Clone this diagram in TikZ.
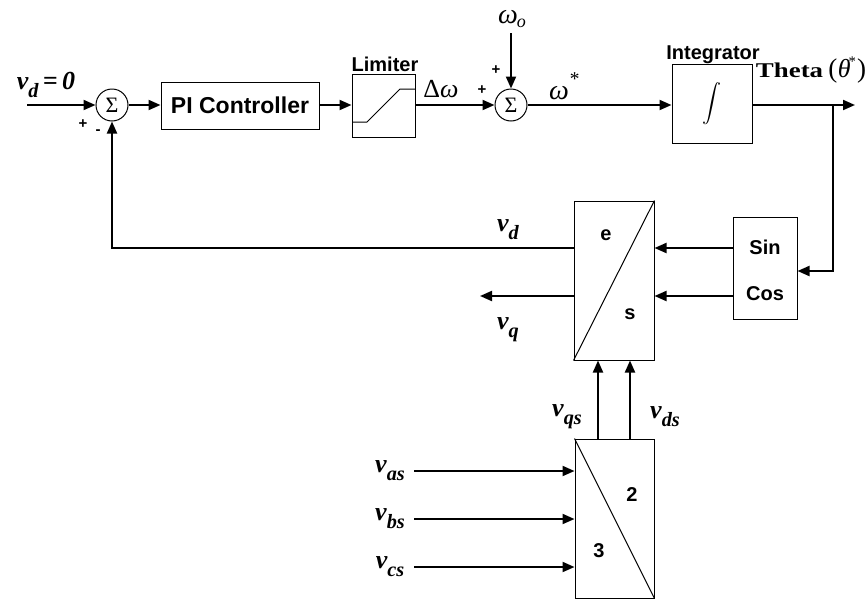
\documentclass[tikz,border=0pt]{standalone}
\usepackage{fontspec}
\setmainfont{Liberation Sans}
\newfontfamily\tms{Liberation Serif}
\usetikzlibrary{arrows.meta,calc}
\newcommand\lsub[1]{\raisebox{-0.3em}{\scalebox{0.78}{#1}}}
\newcommand\lsup[1]{\raisebox{0.5em}{\scalebox{0.7}{#1}}}
\newcommand\bi[1]{{\tms\bfseries\itshape #1}}
\newcommand\fs[1]{\fontsize{#1}{#1}\selectfont}
\begin{document}
\begin{tikzpicture}[x=1pt,y=-1pt,
  sig/.style={line width=2pt,-{Triangle[length=12pt,width=10pt]}},
  box/.style={draw,line width=1pt,inner sep=0pt,minimum width=#1},
  sumc/.style={draw,circle,line width=1pt,minimum size=32pt,inner sep=0pt,font=\tms\fs{22}},
  blab/.style={font=\bfseries\fs{20}},
  mlab/.style={font=\tms\bfseries\itshape\fs{26}},
  wlab/.style={font=\tms\itshape\fs{28}},
  pm/.style={font=\bfseries\fs{15}}
]
\useasboundingbox (0,0) rectangle (868,600);
% blocks
\node[sumc] (s1) at (112,105) {Σ};
\node[box=158pt,minimum height=47pt,font=\bfseries\fs{23}] (pi) at (240,105.5) {PI Controller};
\node[box=63pt,minimum height=63pt] (lim) at (383.5,105.5) {};
\node[sumc] (s2) at (511,105) {Σ};
\node[box=80pt,minimum height=79pt] (int) at (712,103.5) {\scalebox{1.9}{$\displaystyle\int$}};
\node[box=80pt,minimum height=159pt] (es) at (614,280.5) {};
\node[box=64pt,minimum height=102pt] (sc) at (765,268) {};
\node[box=79pt,minimum height=159pt] (tt) at (614.5,518.5) {};
% block interiors
\draw[line width=1pt] (352,122) -- (367,122) -- (400,89) -- (415,89);
\draw[line width=1pt] (es.south west) -- (es.north east);
\draw[line width=1pt] (tt.north west) -- (tt.south east);
\node[blab] (le) at (606,235) {e};
\node[blab] (ls) at (630,314) {s};
\node[blab] (lsin) at (765,247) {Sin};
\node[blab] (lcos) at (765,294) {Cos};
\node[blab] (l2) at (632,495) {2};
\node[blab] (l3) at (599,551) {3};
\node[blab] (llim) at (385,64) {Limiter};
\node[blab] (lint) at (713,55) {Integrator};
% coordinates
\coordinate (in) at (27,105);
\coordinate (wo) at (511,33);
\coordinate (out) at (855,105);
\coordinate (br) at (833,105);
\coordinate (vq) at (480,296);
\coordinate (fb) at (112,248);
\coordinate (ia) at (414,471);
\coordinate (ib) at (414,519);
\coordinate (ic) at (414,567);
% connectors
\draw[sig] (in) -- (s1.west);
\draw[sig] (s1.east) -- (s1.east -| pi.west);
\draw[sig] (pi.east |- s1) -- (s1 -| lim.west);
\draw[sig] (lim.east |- s1) -- (s2.west);
\draw[sig] (wo) -- (s2.north);
\draw[sig] (s2.east) -- (s2 -| int.west);
\draw[sig] (int.east |- s2) -- (out);
\draw[sig] (br) |- (sc.east |- 0,271);
\draw[sig] (sc.west |- 0,248) -- (es.east |- 0,248);
\draw[sig] (sc.west |- 0,296) -- (es.east |- 0,296);
\draw[sig] (es.west |- 0,248) -- (fb) -- (s1.south);
\draw[sig] (es.west |- 0,296) -- (vq);
\draw[sig] (tt.north -| 598,0) -- (es.south -| 598,0);
\draw[sig] (tt.north -| 630,0) -- (es.south -| 630,0);
\draw[sig] (ia) -- (tt.west |- ia);
\draw[sig] (ib) -- (tt.west |- ib);
\draw[sig] (ic) -- (tt.west |- ic);
% labels
\node[mlab] (lvd0) at (46,85) {v\lsub{d}\,=\,0};
\node[pm] (p1) at (83,124) {+};
\node[pm] (m1) at (98,132) {-};
\node[font=\tms\fs{26}] (ldw) at (441,89) {Δ{\itshape ω}};
\node[pm] (p2) at (482,90) {+};
\node[pm] (p3) at (496,70) {+};
\node[wlab] (lwo) at (512,19) {ω\kern-1pt\raisebox{-0.12em}{\fs{18}o}};
\node[wlab] (lws) at (564,86) {ω\lsup{*}};
\node[font=\tms\fs{21}] (lth) at (811,70) {\scalebox{1.28}[1]{\textbf{Theta}}\ {\fs{27}(}\kern0.5pt{\itshape\fs{26}θ}\kern-2pt\lsup{*}\kern1pt{\fs{27})}};
\node[mlab] (lvd) at (508,230) {v\lsub{d}};
\node[mlab] (lvq) at (508,330) {v\lsub{q}};
\node[mlab] (lvqs) at (567,417) {v\lsub{qs}};
\node[mlab] (lvds) at (665,417) {v\lsub{ds}};
\node[mlab] (lvas) at (390,471) {v\lsub{as}};
\node[mlab] (lvbs) at (390,519) {v\lsub{bs}};
\node[mlab] (lvcs) at (390,567) {v\lsub{cs}};
\end{tikzpicture}
\end{document}
